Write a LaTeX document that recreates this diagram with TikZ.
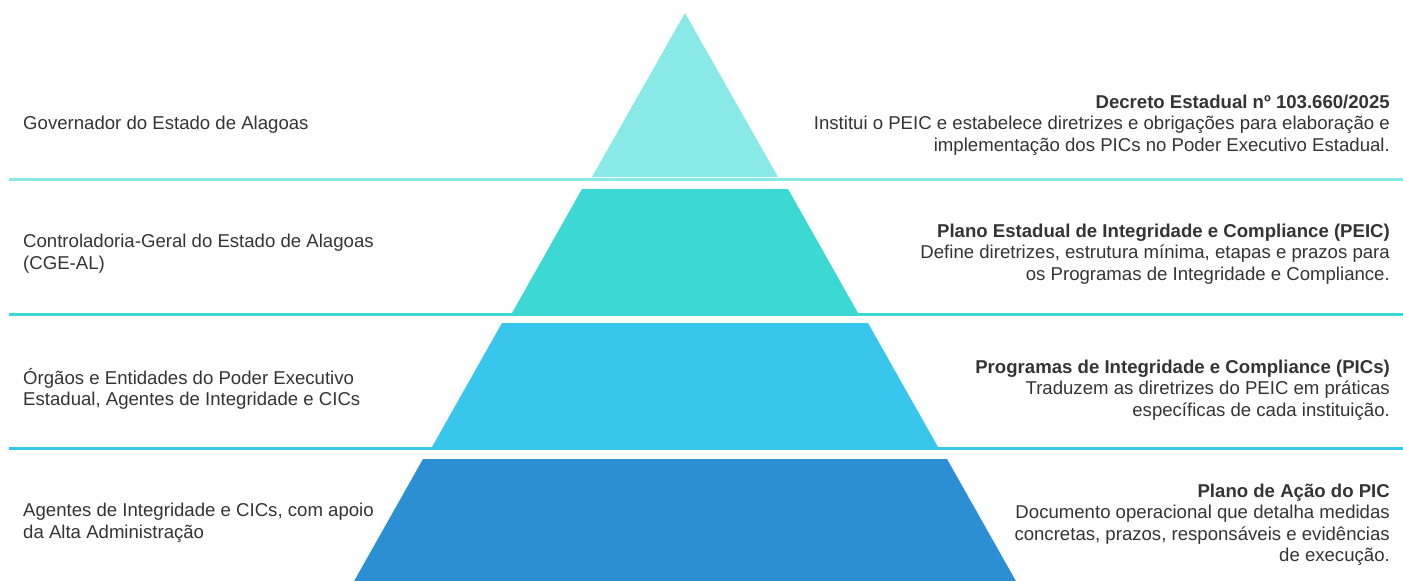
\documentclass[tikz,border=0pt]{standalone}
\usepackage{fontspec}
\setmainfont{Liberation Sans}
\usepackage{tikz}
\usetikzlibrary{positioning}
\definecolor{layerA}{RGB}{136,233,231}
\definecolor{layerB}{RGB}{60,217,212}
\definecolor{layerC}{RGB}{57,198,236}
\definecolor{layerD}{RGB}{44,143,211}
\definecolor{textgray}{RGB}{52,52,52}

\begin{document}
\begin{tikzpicture}[x=1pt,y=-1pt,
		sep line/.style={line width=3pt},
		who node/.style={anchor=west,align=left,inner sep=0pt,text=textgray,
			font=\fontsize{18.6}{21.5}\selectfont},
		what node/.style={anchor=east,align=right,inner sep=0pt,text=textgray,
			font=\fontsize{18.6}{21.5}\selectfont}]
		
		\useasboundingbox (0,0) rectangle (1403,581);
		
		% separator lines
		\draw[sep line,layerA] (9,179) -- (1403,179);
		\draw[sep line,layerB] (9,314) -- (1403,314);
		\draw[sep line,layerC] (9,448) -- (1403,448);
		
		% pyramid layers
		\fill[layerA] (685,13) -- (778,177) -- (592,177) -- cycle;
		\fill[layerB] (582,189) -- (788,189) -- (858,313) -- (512,313) -- cycle;
		\fill[layerC] (502,323) -- (868,323) -- (938,447) -- (432,447) -- cycle;
		\fill[layerD] (423,459) -- (947,459) -- (1017,583) -- (353,583) -- cycle;
		
		% left column
		\node[who node] (g1) at (23,125) {Governador do Estado de Alagoas};
		\node[who node] (g2) at (23,253.5) {Controladoria-Geral do Estado de Alagoas\\(CGE-AL)};
		\node[who node] (g3) at (23,389) {Órgãos e Entidades do Poder Executivo\\Estadual, Agentes de Integridade e CICs};
		\node[who node] (g4) at (23,522.5) {Agentes de Integridade e CICs, com apoio\\da Alta Administração};
		
		% right column
		\node[what node] (d1) at (1390,125) {\textbf{Decreto Estadual nº 103.660/2025}\\Institui o PEIC e estabelece diretrizes e obrigações para elaboração e\\implementação dos PICs no Poder Executivo Estadual.};
		\node[what node] (d2) at (1390,254) {\textbf{Plano Estadual de Integridade e Compliance (PEIC)}\\Define diretrizes, estrutura mínima, etapas e prazos para\\os Programas de Integridade e Compliance.};
		\node[what node] (d3) at (1390,390) {\textbf{Programas de Integridade e Compliance (PICs)}\\Traduzem as diretrizes do PEIC em práticas\\específicas de cada instituição.};
		\node[what node] (d4) at (1390,524.5) {\textbf{Plano de Ação do PIC}\\Documento operacional que detalha medidas\\concretas, prazos, responsáveis e evidências\\de execução.};
		
\end{tikzpicture}
\end{document}
